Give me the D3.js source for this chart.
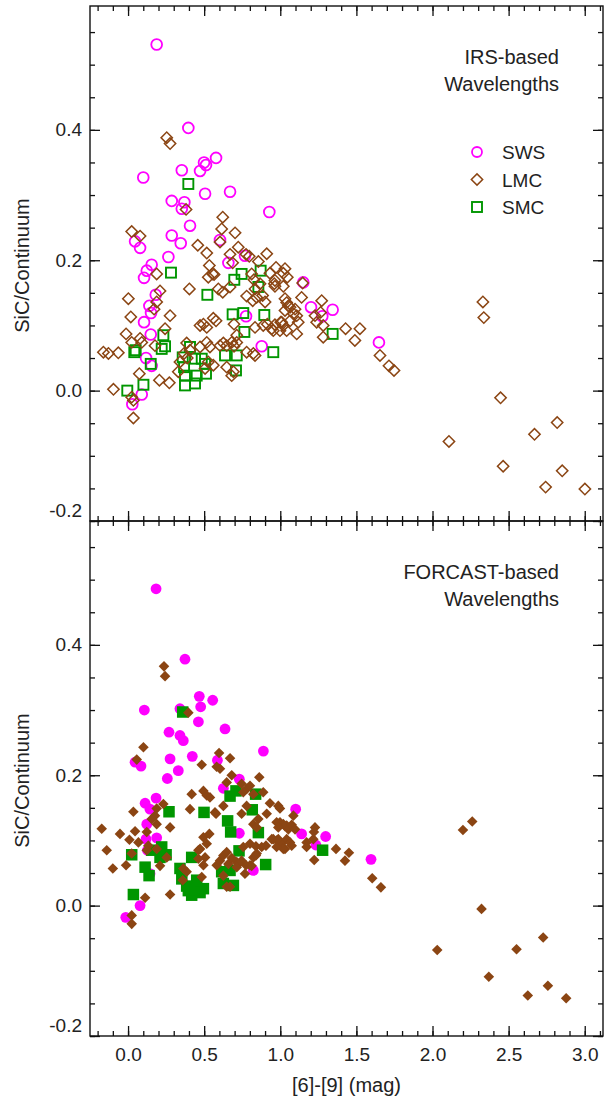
<!DOCTYPE html>
<html><head><meta charset="utf-8">
<script src="https://cdn.jsdelivr.net/npm/d3@7"></script>
<style>
body{margin:0;background:#fff}
svg{display:block}
text{font-family:"Liberation Sans",Arial,Helvetica,sans-serif;fill:#222}
.tick text{font-size:19px}
.lbl{font-size:20px}
</style>
</head><body><svg id="c" width="604" height="1112"></svg>
<script>
// ---------- data (x = [6]-[9] mag, y = SiC/Continuum) ----------
const irsSWS = [[0.188,0.531],[0.396,0.403],[0.100,0.327],[0.353,0.338],[0.499,0.350],[0.512,0.346],[0.473,0.337],[0.578,0.357],[0.506,0.302],[0.670,0.305],[0.287,0.291],[0.370,0.289],[0.353,0.279],[0.928,0.274],[0.407,0.253],[0.287,0.238],[0.346,0.226],[0.604,0.231],[0.046,0.229],[0.079,0.219],[0.265,0.205],[0.155,0.193],[0.659,0.196],[0.768,0.207],[0.123,0.184],[0.105,0.173],[0.182,0.147],[0.140,0.130],[0.151,0.119],[0.105,0.105],[0.149,0.086],[0.775,0.114],[0.878,0.068],[0.118,0.050],[0.155,0.038],[0.090,-0.006],[0.028,-0.021],[1.151,0.166],[1.202,0.128],[1.276,0.114],[1.344,0.124],[1.648,0.074]];

const irsSMC = [[0.396,0.317],[0.282,0.181],[0.521,0.147],[0.746,0.179],[0.698,0.170],[0.871,0.184],[0.856,0.159],[0.687,0.117],[0.757,0.119],[0.895,0.116],[0.764,0.090],[0.232,0.085],[0.243,0.068],[0.221,0.064],[0.050,0.062],[0.041,0.059],[0.149,0.041],[0.101,0.009],[-0.005,0.000],[0.359,0.051],[0.368,0.036],[0.374,0.023],[0.374,0.008],[0.407,0.067],[0.440,0.011],[0.451,0.023],[0.506,0.041],[0.512,0.026],[0.484,0.049],[0.637,0.054],[0.714,0.054],[0.709,0.031],[0.954,0.059],[1.344,0.087],[0.440,0.049]];

const irsLMC = [[0.254,0.388],[0.276,0.379],[0.381,0.278],[0.622,0.266],[0.615,0.248],[0.703,0.242],[0.604,0.228],[0.024,0.244],[0.079,0.237],[0.458,0.223],[0.517,0.211],[0.724,0.220],[0.775,0.209],[0.796,0.206],[0.911,0.210],[0.856,0.198],[0.534,0.192],[0.972,0.189],[1.031,0.187],[0.670,0.209],[0.687,0.196],[0.556,0.179],[0.527,0.174],[0.565,0.178],[0.188,0.179],[0.403,0.156],[0.593,0.156],[0.622,0.151],[0.670,0.159],[0.779,0.145],[0.819,0.138],[0.827,0.170],[0.932,0.180],[0.965,0.169],[1.020,0.180],[0.965,0.160],[1.020,0.160],[0.002,0.141],[0.210,0.153],[0.188,0.136],[0.171,0.125],[0.018,0.113],[0.276,0.115],[0.560,0.111],[0.578,0.107],[0.495,0.102],[0.517,0.097],[0.473,0.100],[0.696,0.102],[0.714,0.085],[0.834,0.097],[0.888,0.100],[0.944,0.095],[0.965,0.101],[1.003,0.105],[1.020,0.100],[1.031,0.141],[1.053,0.130],[-0.013,0.087],[0.024,0.074],[0.079,0.080],[0.090,0.074],[0.243,0.095],[0.177,0.069],[-0.162,0.059],[-0.129,0.057],[-0.064,0.058],[0.385,0.073],[0.407,0.062],[0.368,0.057],[0.389,0.050],[0.517,0.074],[0.538,0.067],[0.604,0.069],[0.626,0.073],[0.648,0.069],[0.681,0.074],[0.696,0.068],[0.714,0.074],[0.779,0.059],[0.823,0.057],[0.834,0.054],[0.527,0.044],[0.560,0.039],[0.692,0.029],[0.681,0.023],[0.341,0.044],[0.330,0.029],[0.074,0.026],[0.206,0.016],[0.271,0.012],[-0.096,0.002],[0.024,-0.010],[0.035,-0.015],[0.035,-0.042],[1.046,0.174],[0.812,0.179],[0.867,0.164],[0.834,0.156],[0.884,0.146],[0.845,0.143],[0.900,0.136],[0.961,0.164],[1.042,0.135],[1.064,0.128],[1.097,0.125],[1.031,0.123],[1.086,0.118],[1.108,0.115],[1.064,0.107],[1.118,0.105],[1.140,0.143],[1.009,0.105],[0.998,0.092],[1.042,0.092],[1.108,0.087],[1.147,0.165],[1.272,0.138],[1.239,0.105],[1.282,0.100],[1.228,0.115],[1.265,0.120],[1.429,0.095],[1.523,0.095],[1.490,0.077],[1.282,0.082],[0.915,0.102],[0.954,0.092],[1.655,0.054],[1.714,0.038],[1.747,0.031],[0.648,0.036],[0.473,0.067],[0.506,0.034],[2.331,0.136],[2.337,0.112],[2.447,-0.011],[2.108,-0.078],[2.670,-0.067],[2.819,-0.049],[2.464,-0.116],[2.852,-0.123],[2.743,-0.148],[3.001,-0.151]];

const forSWS = [[0.184,0.486],[0.374,0.378],[0.468,0.321],[0.477,0.305],[0.556,0.315],[0.341,0.302],[0.107,0.300],[0.462,0.282],[0.637,0.271],[0.269,0.266],[0.341,0.261],[0.363,0.253],[0.889,0.237],[0.276,0.225],[0.422,0.229],[0.046,0.220],[0.085,0.214],[0.587,0.223],[0.330,0.207],[0.258,0.195],[0.731,0.194],[0.184,0.165],[0.112,0.157],[0.144,0.148],[0.626,0.180],[0.123,0.125],[0.188,0.104],[0.118,0.102],[0.127,0.085],[0.731,0.111],[0.144,0.049],[0.823,0.054],[0.079,0.000],[-0.015,-0.018],[1.101,0.148],[1.140,0.110],[1.298,0.106],[1.234,0.093],[1.596,0.071]];

const forSMC = [[0.359,0.297],[0.269,0.144],[0.499,0.143],[0.670,0.168],[0.709,0.176],[0.838,0.171],[0.816,0.147],[0.654,0.130],[0.674,0.113],[0.856,0.112],[0.729,0.084],[0.024,0.078],[0.155,0.085],[0.221,0.090],[0.250,0.078],[0.210,0.074],[0.418,0.074],[0.112,0.059],[0.138,0.046],[0.904,0.063],[0.341,0.057],[0.353,0.041],[0.396,0.023],[0.418,0.016],[0.495,0.026],[0.451,0.039],[0.615,0.052],[0.670,0.054],[0.626,0.034],[0.692,0.031],[0.035,0.017],[1.278,0.085],[0.385,0.030],[0.440,0.025],[0.473,0.020]];

const forLMC = [[0.236,0.367],[0.243,0.352],[0.396,0.296],[0.101,0.243],[0.057,0.224],[0.598,0.234],[0.670,0.226],[0.484,0.216],[0.582,0.213],[0.604,0.210],[0.681,0.200],[0.862,0.197],[0.648,0.189],[0.746,0.187],[0.779,0.179],[0.801,0.184],[0.757,0.174],[0.823,0.171],[0.888,0.174],[0.418,0.171],[0.495,0.176],[0.517,0.169],[0.538,0.166],[0.407,0.148],[0.571,0.143],[0.578,0.141],[0.626,0.153],[0.746,0.141],[0.779,0.153],[0.932,0.157],[0.987,0.153],[0.998,0.149],[0.911,0.141],[0.856,0.133],[0.823,0.125],[0.845,0.120],[0.998,0.128],[1.020,0.125],[1.042,0.123],[0.035,0.144],[0.188,0.149],[0.232,0.156],[0.177,0.138],[0.155,0.133],[0.276,0.120],[0.188,0.125],[-0.173,0.118],[-0.053,0.110],[0.046,0.114],[0.009,0.101],[0.068,0.097],[0.123,0.113],[-0.140,0.085],[0.133,0.092],[0.123,0.085],[0.188,0.087],[0.254,0.074],[0.024,0.080],[-0.013,0.062],[-0.100,0.057],[0.210,0.061],[0.495,0.105],[0.534,0.110],[0.517,0.095],[0.473,0.087],[0.506,0.074],[0.462,0.085],[0.363,0.057],[0.385,0.052],[0.359,0.039],[0.495,0.062],[0.484,0.044],[0.582,0.062],[0.604,0.069],[0.626,0.077],[0.648,0.082],[0.659,0.064],[0.681,0.073],[0.714,0.067],[0.746,0.069],[0.775,0.062],[0.801,0.062],[0.823,0.074],[0.845,0.080],[0.757,0.090],[0.801,0.095],[0.840,0.091],[0.878,0.090],[0.906,0.092],[0.944,0.102],[0.976,0.100],[1.009,0.096],[1.031,0.087],[0.462,0.072],[0.626,0.046],[0.648,0.029],[0.276,0.017],[0.112,0.012],[0.024,-0.015],[0.024,-0.028],[0.976,0.128],[1.031,0.122],[1.053,0.117],[1.075,0.124],[1.086,0.138],[1.097,0.117],[0.987,0.120],[0.954,0.102],[0.987,0.102],[1.042,0.102],[1.064,0.097],[1.075,0.092],[1.020,0.087],[0.976,0.090],[1.173,0.097],[1.173,0.090],[1.217,0.102],[1.228,0.120],[1.221,0.113],[1.366,0.087],[1.451,0.081],[1.425,0.069],[1.223,0.070],[1.604,0.042],[1.661,0.028],[0.724,0.064],[0.768,0.049],[0.812,0.061],[0.840,0.077],[0.670,0.029],[0.714,0.059],[2.200,0.116],[2.261,0.129],[2.322,-0.005],[2.031,-0.068],[2.552,-0.067],[2.727,-0.049],[2.370,-0.109],[2.758,-0.123],[2.626,-0.138],[2.878,-0.142]];

const xTickValues = [0.0,0.5,1.0,1.5,2.0,2.5,3.0];
const yTickValues = [-0.2,0.0,0.2,0.4];
const legendLabels = ["SWS","LMC","SMC"];
const panelNotes = [["IRS-based","Wavelengths"],["FORCAST-based","Wavelengths"]];
const xTitle = "[6]-[9] (mag)";
const yTitle = "SiC/Continuum";

// ---------- layout ----------
const L = 90, R = 603, panelH = 515, tops = [6, 521];
const colors = {SWS:"#ff00ff", LMC:"#8b4513", SMC:"#009600"};
const svg = d3.select("#c");
const x = d3.scaleLinear().domain([-0.25, 3.12]).range([L, R]);
const xMinor = d3.range(-2, 32).map(i => i/10);
const yMinor = d3.range(-4, 12).map(i => i*0.05);
const fmt = d => d.toFixed(1);
const diamond = d3.symbol(d3.symbolSquare, 64)();
const diamondF = d3.symbol(d3.symbolSquare, 56)();

function styleAxis(g){
  g.attr("font-size", null).attr("font-family", null);
  g.select(".domain").remove();
  g.selectAll("line").attr("stroke", "#111").attr("stroke-width", 1.3);
}

function panel(idx, sws, lmc, smc, filled){
  const top = tops[idx], bot = top + panelH;
  const y = d3.scaleLinear().domain([-0.2, 0.59]).range([bot, top]);
  const g = svg.append("g");

  // markers: SWS, SMC, LMC
  g.append("g").selectAll("circle").data(sws).join("circle")
    .attr("cx", d => x(d[0])).attr("cy", d => y(d[1]))
    .attr("r", filled ? 5.4 : 5.4)
    .attr("fill", filled ? colors.SWS : "none")
    .attr("stroke", filled ? "none" : colors.SWS)
    .attr("stroke-width", 1.8);
  const sq = filled ? 11.5 : 10;
  g.append("g").selectAll("rect").data(smc).join("rect")
    .attr("x", d => x(d[0]) - sq/2).attr("y", d => y(d[1]) - sq/2)
    .attr("width", sq).attr("height", sq)
    .attr("fill", filled ? colors.SMC : "none")
    .attr("stroke", filled ? "none" : colors.SMC)
    .attr("stroke-width", 1.9);
  g.append("g").selectAll("path").data(lmc).join("path")
    .attr("d", filled ? diamondF : diamond)
    .attr("transform", d => `translate(${x(d[0])},${y(d[1])}) rotate(45)`)
    .attr("fill", filled ? colors.LMC : "none")
    .attr("stroke", filled ? "none" : colors.LMC)
    .attr("stroke-width", 1.5);

  // axes
  const showX = idx === 1;
  g.append("g").attr("transform", `translate(0,${bot})`)
    .call(d3.axisBottom(x).tickValues(xMinor).tickSize(-5).tickFormat("")).call(styleAxis);
  g.append("g").attr("transform", `translate(0,${bot})`)
    .call(d3.axisBottom(x).tickValues(xTickValues).tickSize(-10).tickPadding(12).tickFormat(showX ? fmt : "")).call(styleAxis);
  g.append("g").attr("transform", `translate(0,${top})`)
    .call(d3.axisTop(x).tickValues(xMinor).tickSize(-5).tickFormat("")).call(styleAxis);
  g.append("g").attr("transform", `translate(0,${top})`)
    .call(d3.axisTop(x).tickValues(xTickValues).tickSize(-10).tickFormat("")).call(styleAxis);
  g.append("g").attr("transform", `translate(${L},0)`)
    .call(d3.axisLeft(y).tickValues(yMinor).tickSize(-5).tickFormat("")).call(styleAxis);
  const yl = g.append("g").attr("transform", `translate(${L},0)`)
    .call(d3.axisLeft(y).tickValues(yTickValues).tickSize(-10).tickPadding(8).tickFormat(fmt)).call(styleAxis);
  // lowest label sits slightly above the frame corner, as in the original
  yl.selectAll(".tick text").filter(d => d === yTickValues[0]).attr("dy", "-0.0em");
  yl.selectAll(".tick text").filter(d => d === yTickValues[0]).attr("y", -5);
  g.append("g").attr("transform", `translate(${R},0)`)
    .call(d3.axisRight(y).tickValues(yMinor).tickSize(-5).tickFormat("")).call(styleAxis);
  g.append("g").attr("transform", `translate(${R},0)`)
    .call(d3.axisRight(y).tickValues(yTickValues).tickSize(-10).tickFormat("")).call(styleAxis);

  g.append("rect").attr("x", L).attr("y", top).attr("width", R - L).attr("height", panelH)
    .attr("fill", "none").attr("stroke", "#111").attr("stroke-width", 1.4);

  // y title
  g.append("text").attr("class", "lbl")
    .attr("transform", `translate(29,${(top + bot)/2 + 2}) rotate(-90)`)
    .attr("text-anchor", "middle").text(yTitle);

  // panel note
  panelNotes[idx].forEach((t, i) => {
    g.append("text").attr("class", "lbl").attr("x", R - 44).attr("y", top + 57.5 + i*27)
      .attr("text-anchor", "end").text(t);
  });

  // legend (top panel only)
  if (idx === 0) {
    const lx = R - 126, ly0 = top + 146, step = 27.5;
    const lg = g.append("g");
    lg.append("circle").attr("cx", lx).attr("cy", ly0).attr("r", 5)
      .attr("fill", "none").attr("stroke", colors.SWS).attr("stroke-width", 1.8);
    lg.append("path").attr("d", diamond).attr("transform", `translate(${lx},${ly0 + step}) rotate(45)`)
      .attr("fill", "none").attr("stroke", colors.LMC).attr("stroke-width", 1.5);
    lg.append("rect").attr("x", lx - 5).attr("y", ly0 + 2*step - 5).attr("width", 10).attr("height", 10)
      .attr("fill", "none").attr("stroke", colors.SMC).attr("stroke-width", 1.9);
    legendLabels.forEach((t, i) => {
      lg.append("text").attr("class", "lbl").attr("x", lx + 25).attr("y", ly0 + i*step + 7)
        .style("font-size", "19px").text(t);
    });
  }
}

panel(0, irsSWS, irsLMC, irsSMC, false);
panel(1, forSWS, forLMC, forSMC, true);

svg.append("text").attr("class", "lbl").attr("x", (L + R)/2).attr("y", 1092)
  .attr("text-anchor", "middle").text(xTitle);
</script>
</body></html>
